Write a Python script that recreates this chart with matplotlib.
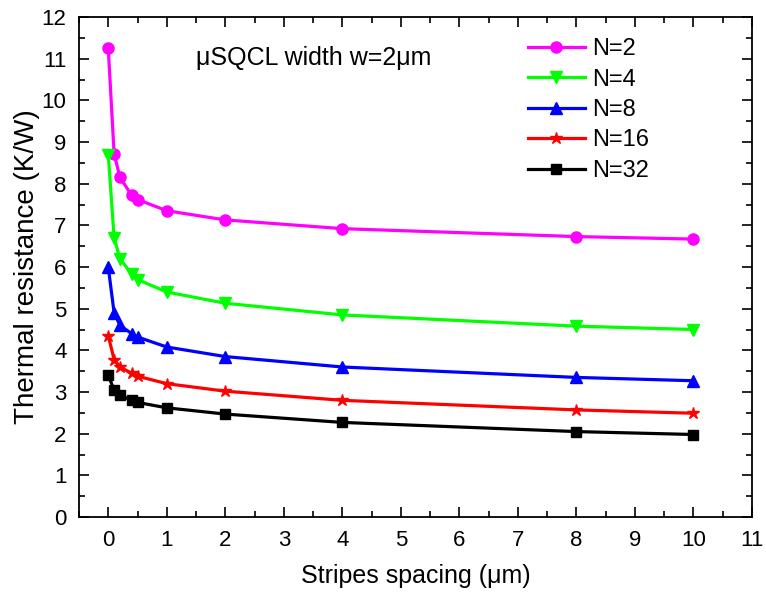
import matplotlib
matplotlib.use("Agg")
import matplotlib.pyplot as plt
from matplotlib.ticker import MultipleLocator

plt.rcParams['font.family'] = ['Liberation Sans', 'DejaVu Sans']

# stripes spacing (um)
spacing = [0, 0.1, 0.2, 0.4, 0.5, 1, 2, 4, 8, 10]

# thermal resistance (K/W) per number of stripes
r_n2 = [11.25, 8.72, 8.15, 7.72, 7.62, 7.35, 7.13, 6.92, 6.73, 6.67]
r_n4 = [8.70, 6.70, 6.20, 5.83, 5.70, 5.40, 5.13, 4.85, 4.58, 4.50]
r_n8 = [6.00, 4.90, 4.60, 4.40, 4.32, 4.08, 3.85, 3.60, 3.35, 3.27]
r_n16 = [4.35, 3.78, 3.60, 3.45, 3.38, 3.20, 3.02, 2.80, 2.57, 2.49]
r_n32 = [3.40, 3.05, 2.92, 2.80, 2.75, 2.62, 2.47, 2.27, 2.05, 1.98]

labels = ['N=2', 'N=4', 'N=8', 'N=16', 'N=32']
series = [r_n2, r_n4, r_n8, r_n16, r_n32]
colors = ['#ff00ff', '#00ff00', '#0000ff', '#ff0000', '#000000']
markers = ['o', 'v', '^', '*', 's']
msizes = [8, 9, 9, 9, 7]

fig = plt.figure(figsize=(7.66, 5.92), dpi=100)
ax = fig.add_axes([79 / 766, 1 - 517 / 592, (752 - 79) / 766, (517 - 17) / 592])

for ys, lab, c, m, ms in zip(series, labels, colors, markers, msizes):
    ax.plot(spacing, ys, color=c, marker=m, markersize=ms, linewidth=2.3,
            label=lab)

ax.set_xlim(-0.5, 11)
ax.set_ylim(0, 12)
ax.xaxis.set_major_locator(MultipleLocator(1))
ax.xaxis.set_minor_locator(MultipleLocator(0.5))
ax.yaxis.set_major_locator(MultipleLocator(1))
ax.yaxis.set_minor_locator(MultipleLocator(0.5))
ax.tick_params(which='both', direction='in', top=True, right=True, width=1.2)
ax.tick_params(which='major', length=7, labelsize=16, pad=9)
ax.tick_params(which='minor', length=4)
for sp in ax.spines.values():
    sp.set_linewidth(1.3)

ax.set_xlabel('Stripes spacing (\u03bcm)', fontsize=18, labelpad=10)
ax.set_ylabel('Thermal resistance (K/W)', fontsize=20, labelpad=1)
ax.text(1.5, 10.85, '\u03bcSQCL width w=2\u03bcm', fontsize=18)

ax.legend(loc='upper left', frameon=False, fontsize=17, handlelength=2.4,
          handletextpad=0.3, labelspacing=0.36, borderpad=0,
          borderaxespad=0, bbox_to_anchor=(0.667, 0.958))

fig.savefig('out.png', dpi=100)
